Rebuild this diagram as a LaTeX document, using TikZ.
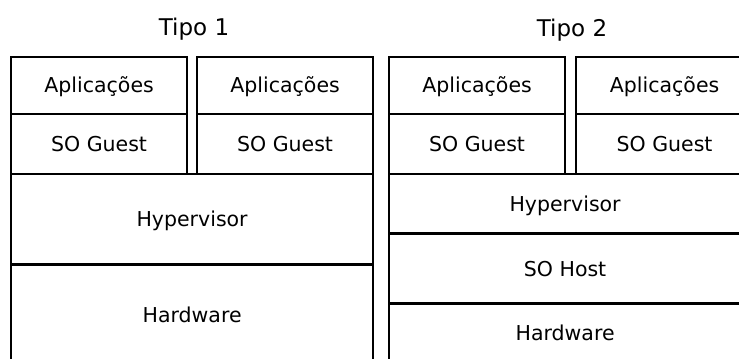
\documentclass[tikz,border=0pt]{standalone}
\usepackage{fontspec}
\setmainfont{DejaVu Sans}
\begin{document}
\begin{tikzpicture}[x=1bp, y=-1bp,
  layer/.style={draw, line width=2.2bp, anchor=north west, inner sep=0pt,
    font=\fontsize{20.5bp}{24bp}\selectfont, text height=14bp, text depth=0bp},
  title/.style={font=\fontsize{23bp}{28bp}\selectfont, anchor=base, inner sep=0pt},
  seam/.style={line width=3bp}]
\useasboundingbox (0,0) rectangle (739,358);
\clip (0,0) rectangle (739,358);

% Type 1: bare-metal hypervisor
\node[title] (t1) at (194,35) {Tipo 1};
\node[layer, minimum width=176bp, minimum height=57bp] (app1a) at (10,56) {Aplicações};
\node[layer, minimum width=176bp, minimum height=60bp] (os1a) at (10,113) {SO Guest};
\node[layer, minimum width=176bp, minimum height=57bp] (app1b) at (196,56) {Aplicações};
\node[layer, minimum width=176bp, minimum height=60bp] (os1b) at (196,113) {SO Guest};
\node[layer, minimum width=362bp, minimum height=91bp] (hyp1) at (10,173) {Hypervisor};
\node[layer, minimum width=362bp, minimum height=100bp] (hw1) at (10,264) {Hardware};
\draw[seam] (hw1.north west) -- (hw1.north east);

% Type 2: hosted hypervisor
\node[title] (t2) at (572,36.5) {Tipo 2};
\node[layer, minimum width=176bp, minimum height=57bp] (app2a) at (388,56) {Aplicações};
\node[layer, minimum width=176bp, minimum height=60bp] (os2a) at (388,113) {SO Guest};
\node[layer, minimum width=177bp, minimum height=57bp] (app2b) at (575,56) {Aplicações};
\node[layer, minimum width=177bp, minimum height=60bp] (os2b) at (575,113) {SO Guest};
\node[layer, minimum width=352bp, minimum height=60bp] (hyp2) at (388,173) {Hypervisor};
\node[layer, minimum width=352bp, minimum height=70bp] (host2) at (388,233) {SO Host};
\node[layer, minimum width=352bp, minimum height=58bp] (hw2) at (388,303) {Hardware};
\draw[seam] (host2.north west) -- (host2.north east);
\draw[seam] (hw2.north west) -- (hw2.north east);
\end{tikzpicture}
\end{document}
